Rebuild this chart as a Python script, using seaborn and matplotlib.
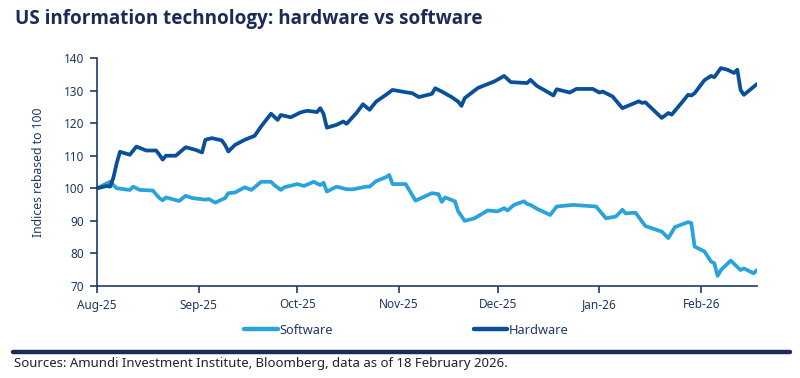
import pandas as pd
import seaborn as sns
import matplotlib
matplotlib.use("Agg")
import matplotlib.pyplot as plt
import matplotlib.dates as mdates
from matplotlib.lines import Line2D

# ---------------- data ----------------
hw_dates = [
    "2025-08-01", "2025-08-04", "2025-08-05", "2025-08-06", "2025-08-07", "2025-08-08",
    "2025-08-11", "2025-08-13", "2025-08-16", "2025-08-19", "2025-08-20", "2025-08-21",
    "2025-08-22", "2025-08-25", "2025-08-28", "2025-08-31", "2025-09-02", "2025-09-03",
    "2025-09-05", "2025-09-08", "2025-09-09", "2025-09-10", "2025-09-12", "2025-09-15",
    "2025-09-18", "2025-09-20", "2025-09-23", "2025-09-25", "2025-09-26", "2025-09-29",
    "2025-10-02", "2025-10-04", "2025-10-07", "2025-10-08", "2025-10-09", "2025-10-10",
    "2025-10-13", "2025-10-15", "2025-10-16", "2025-10-19", "2025-10-21", "2025-10-23",
    "2025-10-25", "2025-10-28", "2025-10-30", "2025-11-03", "2025-11-05", "2025-11-07",
    "2025-11-11", "2025-11-12", "2025-11-14", "2025-11-17", "2025-11-19", "2025-11-20",
    "2025-11-21", "2025-11-25", "2025-11-30", "2025-12-03", "2025-12-05", "2025-12-10",
    "2025-12-11", "2025-12-13", "2025-12-16", "2025-12-18", "2025-12-19", "2025-12-23",
    "2025-12-25", "2025-12-30", "2026-01-01", "2026-01-02", "2026-01-05", "2026-01-08",
    "2026-01-13", "2026-01-14", "2026-01-15", "2026-01-20", "2026-01-22", "2026-01-23",
    "2026-01-26", "2026-01-28", "2026-01-29", "2026-01-30", "2026-02-02", "2026-02-04",
    "2026-02-05", "2026-02-07", "2026-02-09", "2026-02-11", "2026-02-12", "2026-02-13",
    "2026-02-14", "2026-02-18",
]
hw_values = [
    100.0, 100.7, 100.5, 103.3, 107.7, 111.2,
    110.3, 112.8, 111.6, 111.6, 110.3, 108.8,
    110.0, 110.0, 112.6, 111.8, 111.0, 114.9,
    115.4, 114.7, 113.3, 111.3, 113.3, 114.9,
    116.1, 119.0, 122.9, 121.0, 122.5, 121.8,
    123.3, 123.8, 123.4, 124.6, 122.8, 118.6,
    119.5, 120.5, 119.8, 123.1, 125.8, 124.1,
    126.6, 128.7, 130.2, 129.5, 129.2, 128.0,
    129.0, 130.7, 129.7, 128.0, 126.6, 125.3,
    127.7, 130.8, 132.8, 134.5, 132.6, 132.3,
    133.3, 131.4, 129.7, 128.5, 130.4, 129.4,
    130.5, 130.5, 129.4, 129.7, 128.2, 124.6,
    126.7, 126.2, 126.4, 121.6, 123.1, 122.6,
    126.2, 128.7, 128.5, 129.2, 133.2, 134.5,
    134.1, 136.9, 136.4, 135.4, 136.4, 130.2,
    128.7, 132.0,
]

sw_dates = [
    "2025-08-01", "2025-08-04", "2025-08-05", "2025-08-06", "2025-08-07", "2025-08-11",
    "2025-08-12", "2025-08-14", "2025-08-18", "2025-08-20", "2025-08-21", "2025-08-22",
    "2025-08-26", "2025-08-28", "2025-08-30", "2025-09-03", "2025-09-04", "2025-09-06",
    "2025-09-09", "2025-09-10", "2025-09-12", "2025-09-15", "2025-09-17", "2025-09-18",
    "2025-09-20", "2025-09-23", "2025-09-24", "2025-09-26", "2025-09-27", "2025-10-01",
    "2025-10-03", "2025-10-06", "2025-10-08", "2025-10-09", "2025-10-10", "2025-10-13",
    "2025-10-16", "2025-10-18", "2025-10-22", "2025-10-23", "2025-10-25", "2025-10-28",
    "2025-10-29", "2025-10-30", "2025-11-03", "2025-11-06", "2025-11-11", "2025-11-13",
    "2025-11-14", "2025-11-15", "2025-11-18", "2025-11-19", "2025-11-21", "2025-11-24",
    "2025-11-28", "2025-12-01", "2025-12-03", "2025-12-04", "2025-12-06", "2025-12-09",
    "2025-12-10", "2025-12-11", "2025-12-13", "2025-12-16", "2025-12-17", "2025-12-19",
    "2025-12-24", "2025-12-31", "2026-01-03", "2026-01-06", "2026-01-08", "2026-01-09",
    "2026-01-12", "2026-01-15", "2026-01-20", "2026-01-22", "2026-01-24", "2026-01-28",
    "2026-01-29", "2026-01-30", "2026-02-02", "2026-02-04", "2026-02-05", "2026-02-06",
    "2026-02-07", "2026-02-10", "2026-02-13", "2026-02-14", "2026-02-17", "2026-02-18",
]
sw_values = [
    100.0, 101.5, 102.0, 101.0, 100.0, 99.5,
    100.5, 99.5, 99.3, 97.0, 96.3, 97.2,
    96.1, 97.7, 97.0, 96.5, 96.7, 95.6,
    97.0, 98.5, 98.7, 100.3, 99.5, 100.3,
    102.0, 102.0, 101.0, 99.5, 100.3, 101.3,
    100.7, 102.0, 101.0, 101.7, 99.0, 100.5,
    99.7, 99.7, 100.5, 100.5, 102.2, 103.4,
    104.1, 101.3, 101.3, 96.2, 98.5, 98.2,
    95.8, 97.2, 96.0, 92.9, 90.0, 90.8,
    93.2, 92.9, 93.9, 93.2, 94.9, 96.0,
    95.2, 94.9, 93.7, 92.3, 91.8, 94.4,
    94.9, 94.4, 90.8, 91.3, 93.4, 92.3,
    92.5, 88.4, 86.7, 84.7, 88.1, 89.6,
    89.3, 82.1, 80.6, 77.5, 77.0, 73.1,
    74.9, 77.8, 74.9, 75.4, 73.9, 74.9,
]

series_names = ["Software", "Hardware"]
y_ticks = [70, 80, 90, 100, 110, 120, 130, 140]

title = "US information technology: hardware vs software"
y_label = "Indices rebased to 100"
source = "Sources: Amundi Investment Institute, Bloomberg, data as of 18 February 2026."

# ---------------- style ----------------
SW_COLOR = "#29a3dc"
HW_COLOR = "#0a4f9a"
TITLE_COLOR = "#1b2b55"
AXIS_COLOR = "#1f3a6b"
TEXT_COLOR = "#1f3864"

sns.set_theme(style="white")
plt.rcParams["font.family"] = ["Noto Sans", "DejaVu Sans"]

df = pd.concat([
    pd.DataFrame({"date": pd.to_datetime(sw_dates), "value": sw_values, "series": series_names[0]}),
    pd.DataFrame({"date": pd.to_datetime(hw_dates), "value": hw_values, "series": series_names[1]}),
], ignore_index=True)

fig = plt.figure(figsize=(8, 3.78), dpi=100)
ax = fig.add_axes([97 / 800, 1 - 286 / 378, (757 - 97) / 800, (286 - 58) / 378])

sns.lineplot(data=df, x="date", y="value", hue="series",
             palette={"Software": SW_COLOR, "Hardware": HW_COLOR},
             linewidth=2.7, estimator=None, legend=False, ax=ax)

ax.set_xlim(pd.Timestamp("2025-08-01"), pd.Timestamp("2026-02-18"))
ax.set_ylim(70, 140)
ax.set_yticks(y_ticks)
ax.xaxis.set_major_locator(mdates.MonthLocator())
ax.xaxis.set_major_formatter(mdates.DateFormatter("%b-%y"))

for side in ["top", "right"]:
    ax.spines[side].set_visible(False)
for side in ["left", "bottom"]:
    ax.spines[side].set_color(AXIS_COLOR)
    ax.spines[side].set_linewidth(1.2)

ax.tick_params(axis="both", bottom=True, left=True, length=5, width=1.2,
               color=AXIS_COLOR, labelcolor=TEXT_COLOR, labelsize=8.5, pad=4)
ax.set_xlabel("")
ax.set_ylabel(y_label, fontsize=8.8, color=TEXT_COLOR)
ax.yaxis.set_label_coords(-0.079, 0.5)

handles = [Line2D([0], [0], color=SW_COLOR, lw=3.2, solid_capstyle="round"),
           Line2D([0], [0], color=HW_COLOR, lw=3.2, solid_capstyle="round")]
leg = fig.legend(handles, series_names, loc="center", bbox_to_anchor=(0.508, 1 - 330 / 378),
                 ncol=2, frameon=False, handlelength=2.6, handletextpad=0.15,
                 columnspacing=11.0, fontsize=9.2)
for t in leg.get_texts():
    t.set_color(TEXT_COLOR)

fig.add_artist(Line2D([13 / 800, 790 / 800], [1 - 351.5 / 378] * 2,
                      color=TITLE_COLOR, lw=3.2, transform=fig.transFigure))

fig.text(15 / 800, 1 - 19 / 378, title, fontsize=13.6, fontweight="bold",
         family=["Open Sans", "Lato", "DejaVu Sans"],
         color=TITLE_COLOR, va="center", ha="left")
fig.text(14 / 800, 1 - 363.5 / 378, source, fontsize=9.5, color="#222222",
         va="center", ha="left")

fig.savefig("out.png", dpi=100)
